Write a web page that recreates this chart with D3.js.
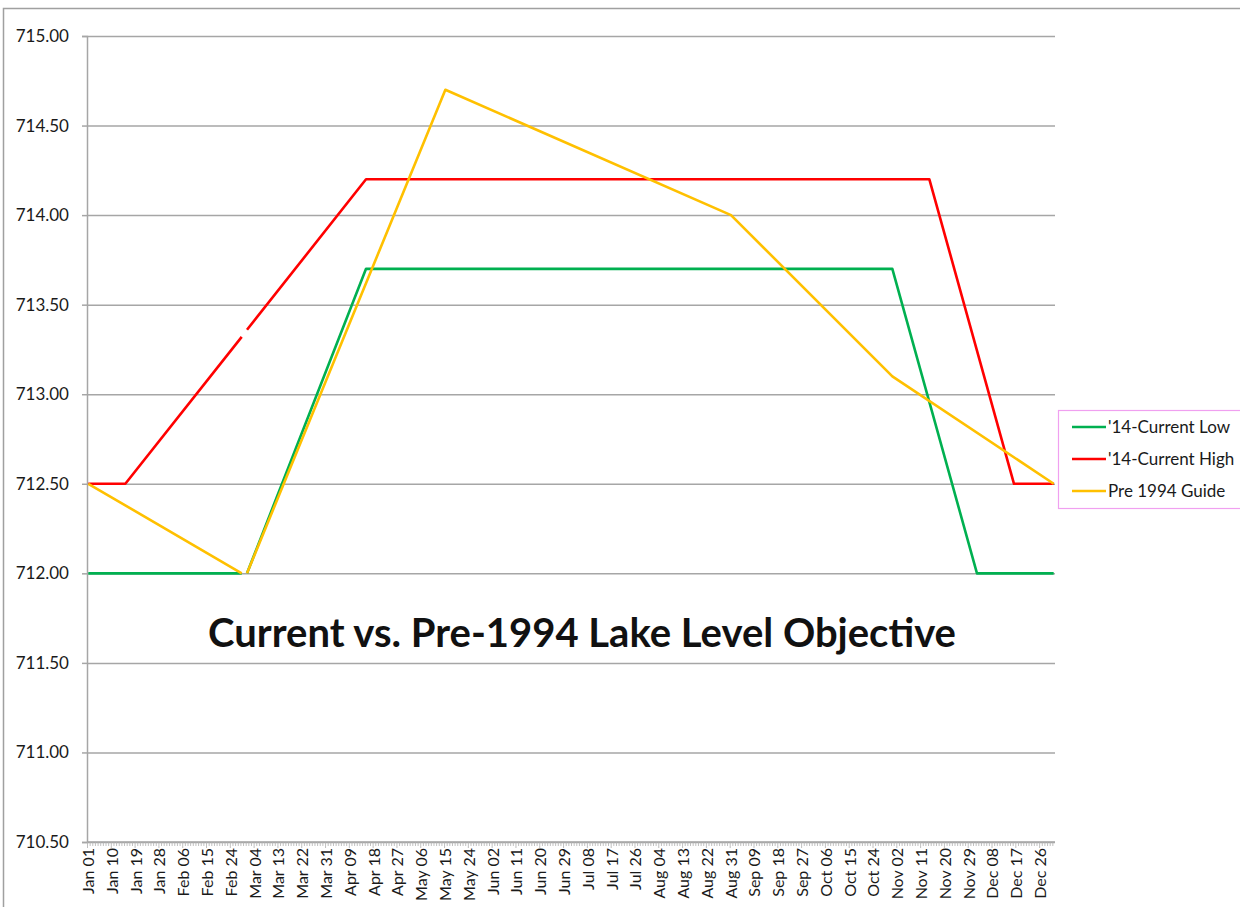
<!DOCTYPE html>
<html>
<head>
<meta charset="utf-8">
<script src="https://cdn.jsdelivr.net/npm/d3@7"></script>
<style>
  body { margin: 0; background: #fff; }
  svg { display: block; }
</style>
</head>
<body>
<div id="chart"></div>
<script>
// Tick labels on the category axis (every 9th day)
var tickLabels = ["Jan 01","Jan 10","Jan 19","Jan 28","Feb 06","Feb 15","Feb 24","Mar 04","Mar 13",
  "Mar 22","Mar 31","Apr 09","Apr 18","Apr 27","May 06","May 15","May 24","Jun 02","Jun 11","Jun 20",
  "Jun 29","Jul 08","Jul 17","Jul 26","Aug 04","Aug 13","Aug 22","Aug 31","Sep 09","Sep 18","Sep 27",
  "Oct 06","Oct 15","Oct 24","Nov 02","Nov 11","Nov 20","Nov 29","Dec 08","Dec 17","Dec 26"]

var yTicks = [710.5, 711, 711.5, 712, 712.5, 713, 713.5, 714, 714.5, 715]

// Series at the corners of each line (null = missing day)
var lowDays  = ["Jan 01","Feb 28","Feb 29","Mar 01","Apr 15","Oct 31","Dec 02","Dec 31"]
var lowVals  = [712.0, 712.0, null, 712.0, 713.7, 713.7, 712.0, 712.0]

var highDays = ["Jan 01","Jan 15","Feb 28","Feb 29","Mar 01","Apr 15","Nov 14","Dec 16","Dec 31"]
var highVals = [712.5, 712.5, 713.32, null, 713.36, 714.2, 714.2, 712.5, 712.5]

var guideDays = ["Jan 01","Feb 28","Feb 29","Mar 01","May 15","Aug 31","Oct 31","Dec 31"]
var guideVals = [712.5, 712.0, null, 712.0, 714.7, 714.0, 713.1, 712.5]

var seriesNames = ["'14-Current Low", "'14-Current High", "Pre 1994 Guide"]
var seriesColors = ["#00b050", "#ff0000", "#ffc000"]

// Day categories (leap year, as in the sheet)
var fmt = d3.timeFormat("%b %d")
var categories = d3.timeDay.range(new Date(2016, 0, 1), new Date(2017, 0, 1)).map(fmt)

var W = 1240, H = 907
var margin = {top: 36, left: 87, right: 185, bottom: 65}
var width = W - margin.left - margin.right,
    height = H - margin.top - margin.bottom
var font = "Lato, 'Noto Sans', sans-serif"

var svg = d3.select("#chart").append("svg")
  .attr("width", W)
  .attr("height", H)
  .style("font-family", font)

// Outer chart frame
svg.append("rect")
  .attr("x", 3.5).attr("y", 8.5)
  .attr("width", W + 10).attr("height", H + 10)
  .attr("fill", "none")
  .attr("stroke", "#a0a0a0")
  .attr("stroke-width", 1.5)

var g = svg.append("g")
  .attr("transform", "translate(" + margin.left + "," + margin.top + ")")

// Scales
var x = d3.scaleBand().domain(categories).range([0, width]).padding(0)
var y = d3.scaleLinear().domain([710.5, 715]).range([height, 0])
var bw = x.bandwidth()

// Gridlines
g.append("g")
  .call(d3.axisLeft(y).tickValues(yTicks).tickSize(-width).tickFormat(""))
  .call(s => s.select(".domain").remove())
  .selectAll("line")
  .attr("stroke", "#a6a6a6")
  .attr("stroke-width", 1.5)

// Y axis
var yAxis = g.append("g")
  .call(d3.axisLeft(y).tickValues(yTicks).tickSize(5).tickPadding(13).tickFormat(d3.format(".2f")))
yAxis.select(".domain").attr("stroke", "#a6a6a6").attr("stroke-width", 1.5)
yAxis.selectAll(".tick line").attr("stroke", "#a6a6a6").attr("stroke-width", 1.5)
yAxis.selectAll("text")
  .attr("fill", "#1a1a1a")
  .style("font-size", "17px")
  .style("font-family", font)

// X axis line
g.append("line")
  .attr("x1", 0).attr("x2", width)
  .attr("y1", height).attr("y2", height)
  .attr("stroke", "#a6a6a6")
  .attr("stroke-width", 1.5)

// Minor ticks at every category boundary, longer every 9 days
g.append("g")
  .selectAll("line")
  .data(categories)
  .enter()
  .append("line")
  .attr("x1", d => x(d) + 0.5)
  .attr("x2", d => x(d) + 0.5)
  .attr("y1", height)
  .attr("y2", (d, i) => height + (i % 9 == 0 ? 6 : 4))
  .attr("stroke", "#b0b0b0")
  .attr("stroke-width", 0.8)

// X labels
var xAxis = g.append("g")
  .attr("transform", "translate(0," + height + ")")
  .call(d3.axisBottom(x).tickValues(tickLabels).tickSize(0).tickPadding(0))
xAxis.select(".domain").remove()
xAxis.selectAll("text")
  .attr("transform", "rotate(-90)")
  .attr("x", -6)
  .attr("y", 0)
  .attr("dy", "0.35em")
  .style("text-anchor", "end")
  .attr("fill", "#1a1a1a")
  .style("font-size", "16px")
  .style("font-family", font)

// Lines
var line = d3.line()
  .defined(d => d[1] != null)
  .x(d => x(d[0]) + bw / 2)
  .y(d => y(d[1]))

var series = [
  d3.zip(lowDays, lowVals),
  d3.zip(highDays, highVals),
  d3.zip(guideDays, guideVals)
]

series.forEach(function(s, i) {
  g.append("path")
    .datum(s)
    .attr("fill", "none")
    .attr("stroke", seriesColors[i])
    .attr("stroke-width", 2.6)
    .attr("stroke-linejoin", "round")
    .attr("d", line)
})

// Title inside the plot
g.append("text")
  .attr("x", 495)
  .attr("y", 611)
  .attr("text-anchor", "middle")
  .style("font-size", "40px")
  .style("font-weight", "bold")
  .attr("fill", "#111")
  .text("Current vs. Pre-1994 Lake Level Objective")

// Legend
var legend = svg.append("g").attr("transform", "translate(1058,410)")
legend.append("rect")
  .attr("x", 0.5).attr("y", 0.5)
  .attr("width", 190).attr("height", 98)
  .attr("fill", "#fff")
  .attr("stroke", "#f0a0f0")
  .attr("stroke-width", 1.2)

seriesNames.forEach(function(name, i) {
  var row = legend.append("g").attr("transform", "translate(0," + (17 + i * 32) + ")")
  row.append("line")
    .attr("x1", 14).attr("x2", 48)
    .attr("stroke", seriesColors[i])
    .attr("stroke-width", 2.6)
  row.append("text")
    .attr("x", 50)
    .attr("dy", "0.35em")
    .style("font-size", "17px")
    .attr("fill", "#1a1a1a")
    .text(name)
})
</script>
</body>
</html>
